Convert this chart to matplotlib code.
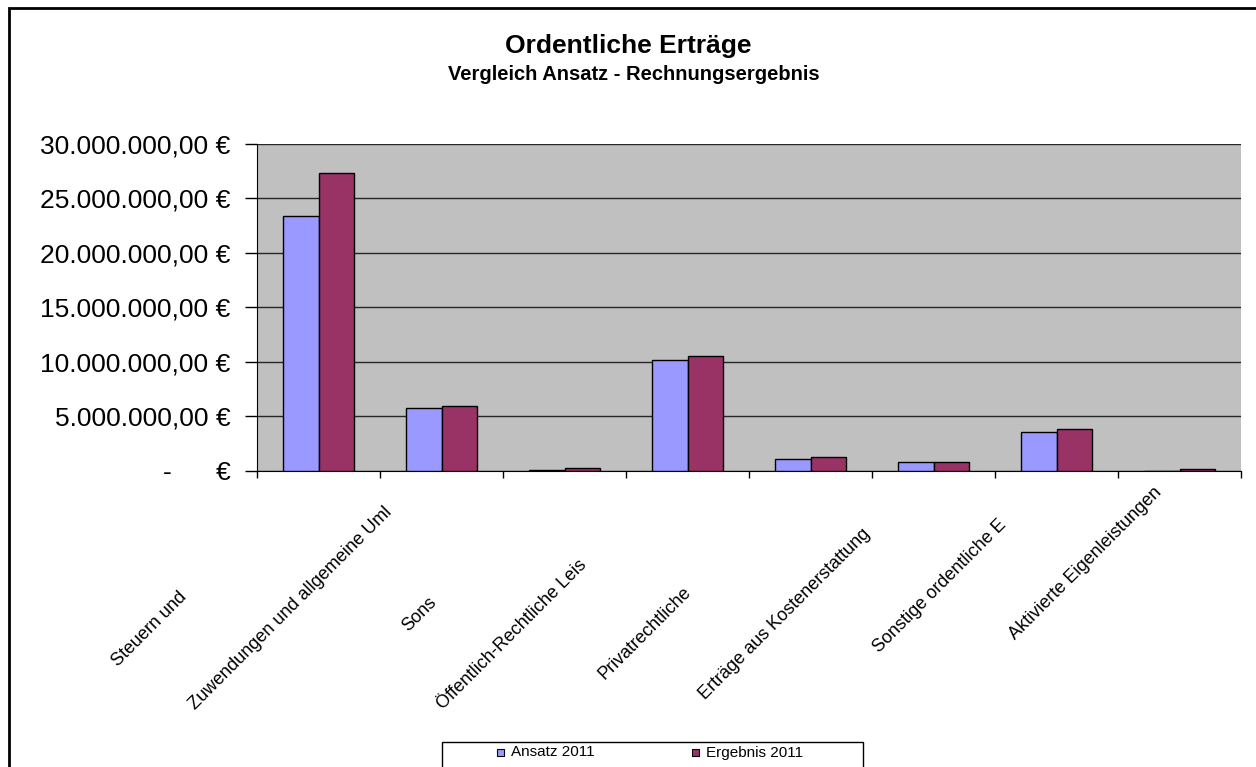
import matplotlib.pyplot as plt
import numpy as np
from matplotlib.patches import Rectangle

# Data (EUR)
categories = ['Steuern und', 'Zuwendungen und allgemeine Uml', 'Sons',
              'Öffentlich-Rechtliche Leis', 'Privatrechtliche',
              'Erträge aus Kostenerstattung', 'Sonstige ordentliche E',
              'Aktivierte Eigenleistungen']
ansatz = [23.36e6, 5.73e6, 0.09e6, 10.15e6, 1.07e6, 0.80e6, 3.56e6, 0.0]
ergebnis = [27.34e6, 5.97e6, 0.21e6, 10.55e6, 1.23e6, 0.80e6, 3.83e6, 0.18e6]
series_names = ['Ansatz 2011', 'Ergebnis 2011']
y_ticks = [0, 5e6, 10e6, 15e6, 20e6, 25e6, 30e6]

# where each (clipped) category label starts, in figure pixels
label_start_px = [(118, 667), (195, 710), (408, 632), (443, 710),
                  (604, 680), (705, 700), (879, 653), (1015, 640)]

colors = ['#9999FF', '#993366']
W, H = 1256, 767

plt.rcParams['font.family'] = ['Liberation Sans', 'DejaVu Sans']


def euro(v):
    if v == 0:
        return '-      €'
    s = f'{v:,.2f}'
    return s.replace(',', 'X').replace('.', ',').replace('X', '.') + ' €'


fig = plt.figure(figsize=(W / 100, H / 100), dpi=100)
ax = fig.add_axes([257 / W, 1 - 470.5 / H, (1241 - 257) / W, (470.5 - 144) / H])

x = np.arange(len(categories))
w = 0.285
ax.bar(x - w / 2, ansatz, w, color=colors[0], edgecolor='black', linewidth=1, zorder=3)
ax.bar(x + w / 2, ergebnis, w, color=colors[1], edgecolor='black', linewidth=1, zorder=3)

ax.set_xlim(-0.5, len(categories) - 0.5)
ax.set_ylim(0, 30e6)
ax.set_facecolor('#C0C0C0')
ax.set_yticks(y_ticks, [euro(v) for v in y_ticks], fontsize=19)
ax.yaxis.grid(True, color='#262626', linewidth=1)
ax.set_axisbelow(True)
ax.set_xticks(np.arange(-0.5, len(categories), 1))
ax.set_xticklabels([])
ax.tick_params(axis='x', length=5, width=1, direction='out')
ax.tick_params(axis='y', length=9, width=1, direction='out', pad=10)
ax.spines['top'].set_visible(False)
ax.spines['right'].set_visible(False)

for lbl, (sx, sy) in zip(categories, label_start_px):
    fig.text(sx / W, 1 - sy / H, lbl, rotation=45, rotation_mode='anchor',
             ha='left', va='baseline', fontsize=13)

fig.text(628 / W, 1 - 46 / H, 'Ordentliche Erträge', ha='center', va='center',
         fontsize=19, fontweight='bold')
fig.text(634 / W, 1 - 75 / H, 'Vergleich Ansatz - Rechnungsergebnis', ha='center',
         va='center', fontsize=14.5, fontweight='bold')

# outer chart frame
fig.patches.append(Rectangle((9 / W, -0.1), 1.2, 1 - 8 / H + 0.1, transform=fig.transFigure,
                             fill=False, edgecolor='black', linewidth=2))

# legend box
fig.patches.append(Rectangle((442 / W, -0.05), 421 / W, 1 - 742 / H + 0.05,
                             transform=fig.transFigure, facecolor='white',
                             edgecolor='black', linewidth=1))
for name, col, sq_x, tx in zip(series_names, colors, [497, 692], [511, 706]):
    fig.patches.append(Rectangle((sq_x / W, 1 - 756 / H), 7 / W, 7 / H,
                                 transform=fig.transFigure, facecolor=col,
                                 edgecolor='black', linewidth=0.8))
    fig.text(tx / W, 1 - 752.5 / H, name, ha='left', va='center', fontsize=11)

fig.savefig('out.png', dpi=100)
